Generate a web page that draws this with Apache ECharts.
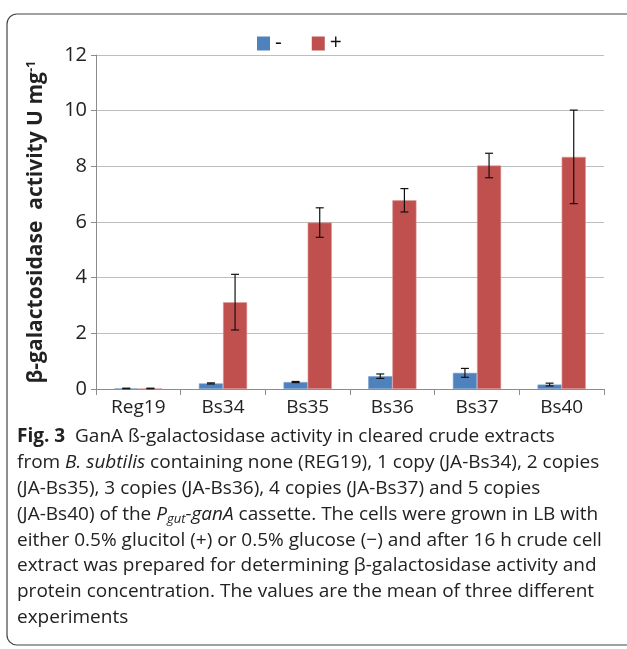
<!DOCTYPE html>
<html><head><meta charset="utf-8">
<script src="https://cdn.jsdelivr.net/npm/echarts@6/dist/echarts.min.js"></script>
<style>html,body{margin:0;padding:0;background:#fff}#c{width:627px;height:649px}</style>
</head><body><div id="c"></div>
<script>
const categories = ['Reg19', 'Bs34', 'Bs35', 'Bs36', 'Bs37', 'Bs40'];
const minusValues = [0.02, 0.20, 0.25, 0.46, 0.58, 0.16];
const minusErrors = [0.01, 0.02, 0.02, 0.08, 0.16, 0.05];
const plusValues = [0.02, 3.12, 5.98, 6.78, 8.03, 8.34];
const plusErrors = [0.01, 1.00, 0.53, 0.42, 0.44, 1.68];
const yTicks = [0, 2, 4, 6, 8, 10, 12];

const chart = echarts.init(document.getElementById('c'));
const GAP = 0.43;
function errSeries(vals, errs, side) {
  return {
    type: 'custom', silent: true, z: 10,
    data: vals.map((v, i) => [i, v, errs[i]]),
    renderItem: function (params, api) {
      const i = api.value(0), v = api.value(1), e = api.value(2);
      const band = api.size([1, 0])[0];
      const bw = band * (1 - GAP) / 2;
      const p = api.coord([i, v]);
      const x = p[0] + side * bw / 2;
      const top = api.coord([i, v + e])[1];
      const bot = api.coord([i, v - e])[1];
      const cw = 4;
      const st = { stroke: '#111', lineWidth: 1.2 };
      return { type: 'group', children: [
        { type: 'line', shape: { x1: x, y1: top, x2: x, y2: bot }, style: st },
        { type: 'line', shape: { x1: x - cw, y1: top, x2: x + cw, y2: top }, style: st },
        { type: 'line', shape: { x1: x - cw, y1: bot, x2: x + cw, y2: bot }, style: st }
      ]};
    }
  };
}

const capFont = '"Open Sans", "Noto Sans", sans-serif';
const capSize = 19;
const rich = {
  n: { fontFamily: capFont, fontSize: capSize, fill: '#222' },
  b: { fontFamily: capFont, fontSize: capSize, fontWeight: 'bold', fill: '#222' },
  i: { fontFamily: capFont, fontSize: capSize, fontStyle: 'italic', fill: '#222' },
  s: { fontFamily: capFont, fontSize: 13, fontStyle: 'italic', fill: '#222', padding: [11, 0, 0, 0] }
};
const captionLines = [
  '{b|Fig. 3}{n|  GanA ß-galactosidase activity in cleared crude extracts}',
  '{n|from }{i|B. subtilis}{n| containing none (REG19), 1 copy (JA-Bs34), 2 copies}',
  '{n|(JA-Bs35), 3 copies (JA-Bs36), 4 copies (JA-Bs37) and 5 copies}',
  '{n|(JA-Bs40) of the }{i|P}{s|gut}{i|-ganA}{n| cassette. The cells were grown in LB with}',
  '{n|either 0.5% glucitol (+) or 0.5% glucose (−) and after 16 h crude cell}',
  '{n|extract was prepared for determining β-galactosidase activity and}',
  '{n|protein concentration. The values are the mean of three different}',
  '{n|experiments}'
];
const graphics = [
  { type: 'rect', shape: { x: 7, y: 14, width: 640, height: 631, r: 10 },
    style: { fill: 'none', stroke: '#444', lineWidth: 1.2 }, z: -1 }
];
captionLines.forEach((t, k) => {
  graphics.push({ type: 'text', left: 17, top: 427 + k * 25.9,
    style: { text: t, rich: rich, fontFamily: capFont, fontSize: capSize } });
});

chart.setOption({
  animation: false,
  textStyle: { fontFamily: '"Open Sans", "Noto Sans", sans-serif' },
  grid: { left: 96, right: 23, top: 55, bottom: 260 },
  legend: {
    data: ['-', '+'], left: 252, top: 28, icon: 'rect', itemWidth: 13, itemHeight: 14,
    itemGap: 30, textStyle: { fontSize: 21, color: '#111' },
    itemStyle: { borderWidth: 0 }
  },
  xAxis: {
    type: 'category', data: categories,
    axisLine: { lineStyle: { color: '#8c8c8c', width: 1 } },
    axisTick: { show: true, length: 6, lineStyle: { color: '#8c8c8c' } },
    axisLabel: { fontSize: 19, color: '#222', margin: 9 }
  },
  yAxis: {
    type: 'value', min: 0, max: 12, interval: 2,
    name: '{t|β-galactosidase  activity U mg}{u|-1}',
    nameLocation: 'middle', nameGap: 48, nameRotate: 90,
    nameTextStyle: { rich: {
      t: { fontSize: 21, fontWeight: 'bold', color: '#222' },
      u: { fontSize: 13, fontWeight: 'bold', color: '#222', padding: [0, 0, 10, 0] }
    } },
    axisLine: { show: true, lineStyle: { color: '#8c8c8c' } },
    axisTick: { show: true, length: 5, lineStyle: { color: '#8c8c8c' } },
    splitLine: { lineStyle: { color: '#bdbdbd', width: 1.2 } },
    axisLabel: { fontSize: 20, color: '#222', margin: 9,
      formatter: v => yTicks.includes(v) ? String(v) : '' }
  },
  series: [
    { name: '-', type: 'bar', data: minusValues, barGap: '0%', barCategoryGap: (GAP * 100) + '%',
      itemStyle: { color: '#4f81bd', borderColor: '#7fa3cf', borderWidth: 0.6 } },
    { name: '+', type: 'bar', data: plusValues,
      itemStyle: { color: '#c0504d', borderColor: '#e09a98', borderWidth: 0.6 } },
    errSeries(minusValues, minusErrors, -1),
    errSeries(plusValues, plusErrors, 1)
  ],
  graphic: graphics
});
</script></body></html>
